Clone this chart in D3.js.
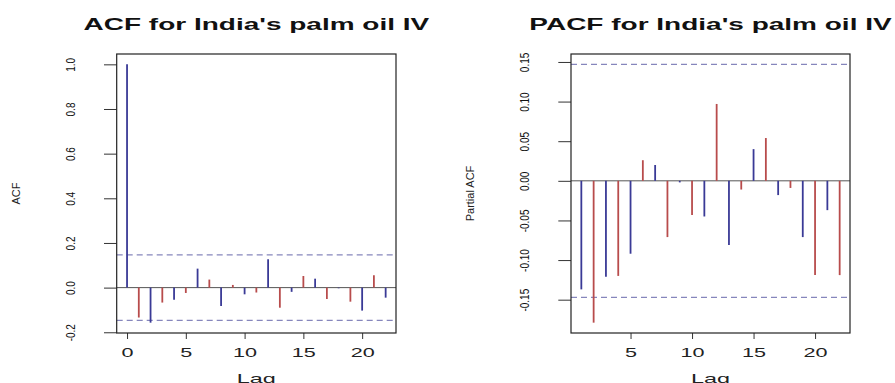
<!DOCTYPE html>
<html>
<head>
<meta charset="utf-8">
<script src="https://cdn.jsdelivr.net/npm/d3@7"></script>
<style>
  body { margin: 0; background: #fff; }
  svg { display: block; }
</style>
</head>
<body>
<div id="chart"></div>
<script>
// ACF / PACF values
const acfLags = [0, 1, 2, 3, 4, 5, 6, 7, 8, 9, 10, 11, 12, 13, 14, 15, 16, 17, 18, 19, 20, 21, 22];
const acfValues = [1.0, -0.134, -0.157, -0.067, -0.054, -0.024, 0.085, 0.036, -0.082, 0.012, -0.030,
  -0.022, 0.127, -0.090, -0.019, 0.052, 0.040, -0.051, -0.003, -0.063, -0.103, 0.055, -0.045];

const pacfLags = [1, 2, 3, 4, 5, 6, 7, 8, 9, 10, 11, 12, 13, 14, 15, 16, 17, 18, 19, 20, 21, 22];
const pacfValues = [-0.137, -0.179, -0.121, -0.120, -0.092, 0.026, 0.020, -0.071, -0.002, -0.043,
  -0.045, 0.097, -0.081, -0.011, 0.040, 0.054, -0.018, -0.009, -0.071, -0.119, -0.037, -0.119];

// confidence bound (dashed lines)
const confLimit = 0.147;

const acfXTicks = [0, 5, 10, 15, 20];
const acfYTicks = [-0.2, 0.0, 0.2, 0.4, 0.6, 0.8, 1.0];
const acfYLabels = ["-0.2", "0.0", "0.2", "0.4", "0.6", "0.8", "1.0"];

const pacfXTicks = [5, 10, 15, 20];
const pacfYTicks = [-0.15, -0.10, -0.05, 0.00, 0.05, 0.10, 0.15];
const pacfYLabels = ["-0.15", "-0.10", "-0.05", "0.00", "0.05", "0.10", "0.15"];

const barColors = ["#3a3a96", "#b84c4c"];
const font = "'Liberation Sans', Arial, sans-serif";

const svg = d3.select("#chart").append("svg")
  .attr("width", 895)
  .attr("height", 383);

// R style: range padded by 4% on each side
function padded(ext) {
  const d = (ext[1] - ext[0]) * 0.04;
  return [ext[0] - d, ext[1] + d];
}

function drawPanel(p) {
  const g = svg.append("g");
  const top = 54, bottom = 333;

  const x = d3.scaleLinear()
    .domain(padded(d3.extent(p.lags)))
    .range([p.left, p.right]);
  const y = d3.scaleLinear()
    .domain(padded(d3.extent(p.values.concat([-confLimit, confLimit]))))
    .range([bottom, top]);

  // zero line
  g.append("line")
    .attr("x1", p.left).attr("x2", p.right)
    .attr("y1", y(0)).attr("y2", y(0))
    .attr("stroke", "#555").attr("stroke-width", 1);

  // confidence lines
  [confLimit, -confLimit].forEach(c => {
    g.append("line")
      .attr("x1", p.left).attr("x2", p.right)
      .attr("y1", y(c)).attr("y2", y(c))
      .attr("stroke", "#8686bc")
      .attr("stroke-width", 1.3)
      .attr("stroke-dasharray", "6,4");
  });

  // the spikes
  g.selectAll(".spike")
    .data(p.values)
    .join("line")
    .attr("class", "spike")
    .attr("x1", (d, i) => x(p.lags[i]))
    .attr("x2", (d, i) => x(p.lags[i]))
    .attr("y1", y(0))
    .attr("y2", d => y(d))
    .attr("stroke", (d, i) => barColors[i % 2])
    .attr("stroke-width", 1.8);

  // x axis
  const xAxis = g.append("g")
    .attr("transform", `translate(0,${bottom})`)
    .call(d3.axisBottom(x).tickValues(p.xTicks).tickSize(6).tickFormat(d3.format("d")));
  xAxis.select(".domain").remove();
  xAxis.selectAll("line").attr("stroke", "#333");
  xAxis.selectAll("text")
    .attr("y", null).attr("dy", null)
    .attr("transform", "translate(0,24) scale(1.8,1)")
    .attr("fill", "#222")
    .style("font-family", font)
    .style("font-size", "12px");

  // y axis
  const yAxis = g.append("g")
    .attr("transform", `translate(${p.left},0)`)
    .call(d3.axisLeft(y).tickValues(p.yTicks).tickSize(12.7)
      .tickFormat((d, i) => p.yLabels[i]));
  yAxis.select(".domain").remove();
  yAxis.selectAll("line").attr("stroke", "#333");
  yAxis.selectAll("text")
    .attr("x", null).attr("dy", null)
    .attr("text-anchor", "middle")
    .attr("transform", "translate(-41.7,0) scale(1.35,1) rotate(-90)")
    .attr("fill", "#111")
    .style("font-family", font)
    .style("font-size", "10px");

  // box
  g.append("rect")
    .attr("x", p.left).attr("y", top)
    .attr("width", p.right - p.left).attr("height", bottom - top)
    .attr("fill", "none")
    .attr("stroke", "#222")
    .attr("stroke-width", 1.2);

  const cx = (p.left + p.right) / 2;

  // title
  g.append("text")
    .attr("transform", `translate(${cx},30) scale(1.75,1)`)
    .attr("text-anchor", "middle")
    .style("font-family", font)
    .style("font-size", "16px")
    .style("font-weight", "bold")
    .attr("fill", "#111")
    .text(p.title);

  // x label (sits on the bottom edge, as in the original)
  g.append("text")
    .attr("transform", `translate(${cx},383) scale(1.8,1)`)
    .attr("text-anchor", "middle")
    .style("font-family", font)
    .style("font-size", "13px")
    .attr("fill", "#222")
    .text("Lag");

  // y label
  g.append("text")
    .attr("transform", `translate(${p.left - 97},${(top + bottom) / 2}) rotate(-90)`)
    .attr("text-anchor", "middle")
    .style("font-family", font)
    .style("font-size", "11px")
    .attr("fill", "#222")
    .text(p.ylab);
}

drawPanel({
  lags: acfLags, values: acfValues,
  left: 116.7, right: 396,
  xTicks: acfXTicks, yTicks: acfYTicks, yLabels: acfYLabels,
  title: "ACF for India's palm oil IV", ylab: "ACF"
});

drawPanel({
  lags: pacfLags, values: pacfValues,
  left: 571, right: 850,
  xTicks: pacfXTicks, yTicks: pacfYTicks, yLabels: pacfYLabels,
  title: "PACF for India's palm oil IV", ylab: "Partial ACF"
});
</script>
</body>
</html>
